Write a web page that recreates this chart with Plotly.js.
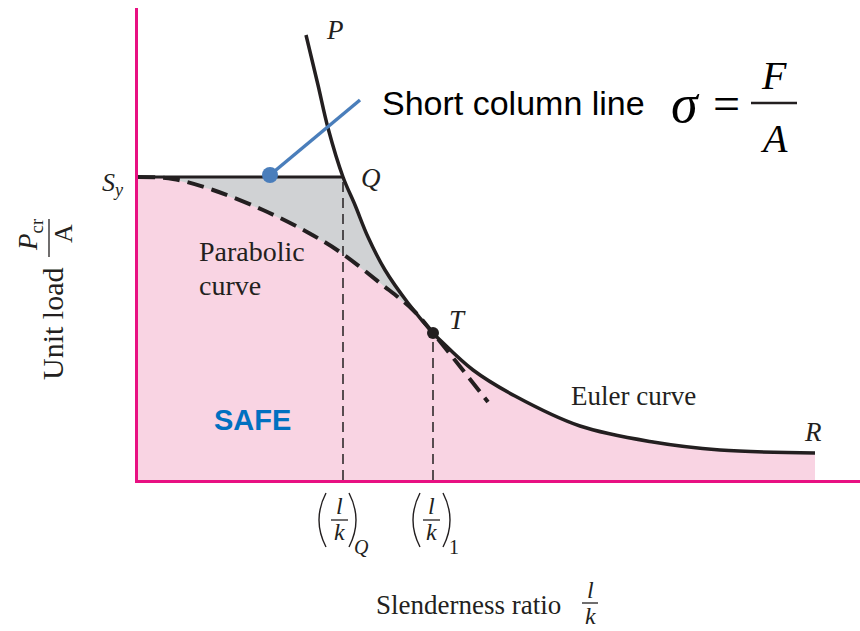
<!DOCTYPE html>
<html>
<head>
<meta charset="utf-8">
<script src="https://cdn.plot.ly/plotly-3.0.1.min.js"></script>
<style>html,body{margin:0;padding:0;background:#fff;}#chart{width:860px;height:631px;}</style>
</head>
<body>
<div id="chart"></div>
<script>
// ---- data (arbitrary units) ----
const eulerX = [168, 180, 190, 205, 217, 230, 247, 270, 295, 302, 335, 377, 442, 515, 582, 677];
const eulerY = [445, 395, 352, 303, 275, 243, 210, 177, 147, 140, 110, 84, 54, 38, 30, 27];
const parabolaX = [0, 35, 75, 125, 169, 202, 242, 275, 295, 350];
const parabolaY = [303, 301, 290, 270, 248, 228, 197, 170, 147, 78];
const yieldStrength = 303;          // S_y
const pointQ = [205, 303];          // (l/k)_Q
const pointT = [295, 147];          // (l/k)_1
const pointerX = [132, 222];        // short-column-line pointer
const pointerY = [305, 380];

// ---- layout constants ----
const L = 138, TOP = 8, PW = 722, PH = 472;
const INK = '#231f20';
const SERIF = 'Liberation Serif, Times New Roman, serif';
const SANS = 'Liberation Sans, Arial, sans-serif';

function px2paper(px, py) { return [(px - L) / PW, (TOP + PH - py) / PH]; }
function ann(px, py, text, size, extra) {
  const p = px2paper(px, py);
  return Object.assign({
    xref: 'paper', yref: 'paper', x: p[0], y: p[1], text: text, showarrow: false,
    xanchor: 'center', yanchor: 'middle',
    font: { family: SERIF, size: size, color: INK }
  }, extra || {});
}
function bar(x0, y0, x1, y1, w) {
  const a = px2paper(x0, y0), b = px2paper(x1, y1);
  return { type: 'line', xref: 'paper', yref: 'paper', x0: a[0], y0: a[1], x1: b[0], y1: b[1],
           line: { color: INK, width: w || 1.3 } };
}
// thin parenthesis drawn as a quadratic curve: ends at xEnd, bulge reaches xExt
function paren(xEnd, xExt, yTop, yBot) {
  const a = px2paper(xEnd, yTop), c = px2paper(2 * xExt - xEnd, (yTop + yBot) / 2), b = px2paper(xEnd, yBot);
  return { type: 'path', xref: 'paper', yref: 'paper',
           path: 'M ' + a[0] + ',' + a[1] + ' Q ' + c[0] + ',' + c[1] + ' ' + b[0] + ',' + b[1],
           line: { color: INK, width: 1.4 } };
}

// ---- derived paths ----
const Tx = pointT[0], Qx = pointQ[0];
const pinkX = [], pinkY = [];
parabolaX.forEach((x, i) => { if (x <= Tx) { pinkX.push(x); pinkY.push(parabolaY[i]); } });
eulerX.forEach((x, i) => { if (x > Tx) { pinkX.push(x); pinkY.push(eulerY[i]); } });

const greyX = [0, Qx], greyY = [yieldStrength, yieldStrength];
eulerX.forEach((x, i) => { if (x > Qx && x <= Tx) { greyX.push(x); greyY.push(eulerY[i]); } });
for (let i = parabolaX.length - 1; i >= 0; i--) {
  if (parabolaX[i] < Tx) { greyX.push(parabolaX[i]); greyY.push(parabolaY[i]); }
}

const traces = [
  { x: pinkX, y: pinkY, mode: 'lines', fill: 'tozeroy', fillcolor: 'rgb(249,212,227)',
    line: { width: 0, shape: 'spline' }, hoverinfo: 'skip' },
  { x: greyX, y: greyY, mode: 'lines', fill: 'toself', fillcolor: 'rgb(208,210,212)',
    line: { width: 0 }, hoverinfo: 'skip' },
  { x: [0, Qx], y: [yieldStrength, yieldStrength], mode: 'lines',
    line: { color: INK, width: 3 } },
  { x: [Qx, Qx], y: [0, pointQ[1]], mode: 'lines',
    line: { color: INK, width: 1.5, dash: '10px,6px' } },
  { x: [Tx, Tx], y: [0, pointT[1]], mode: 'lines',
    line: { color: INK, width: 1.5, dash: '10px,6px' } },
  { x: parabolaX, y: parabolaY, mode: 'lines',
    line: { color: INK, width: 4, dash: '17px,8px', shape: 'spline' } },
  { x: eulerX, y: eulerY, mode: 'lines',
    line: { color: INK, width: 3.5, shape: 'spline' } },
  { x: [Tx], y: [pointT[1]], mode: 'markers', marker: { color: INK, size: 12 } },
  { x: pointerX, y: pointerY, mode: 'lines',
    line: { color: 'rgb(74,126,187)', width: 3.5 } },
  { x: [pointerX[0]], y: [pointerY[0]], mode: 'markers',
    marker: { color: 'rgb(74,126,187)', size: 16, line: { width: 0 } } }
];

const annotations = [
  ann(335, 30, '<i>P</i>', 27),
  ann(371, 178, '<i>Q</i>', 27),
  ann(457, 320, '<i>T</i>', 27),
  ann(813, 432, '<i>R</i>', 27),
  ann(113, 184, '<i>S</i><sub><i>y</i></sub>', 26),
  ann(252, 251, 'Parabolic', 28),
  ann(230, 285, 'curve', 28),
  ann(633, 396, 'Euler curve', 27),
  ann(252, 420, '<b>SAFE</b>', 29, { font: { family: SANS, size: 29, color: 'rgb(0,112,192)' } }),
  ann(513, 103, 'Short column line', 34, { font: { family: SANS, size: 34, color: '#000' } }),
  ann(685, 104, '<i>σ</i>', 54, { font: { family: SERIF, size: 54, color: '#000' } }),
  ann(726, 103, '=', 48, { font: { family: SERIF, size: 48, color: '#000' } }),
  ann(774, 76, '<i>F</i>', 40, { font: { family: SERIF, size: 40, color: '#000' } }),
  ann(774, 138, '<i>A</i>', 40, { font: { family: SERIF, size: 40, color: '#000' } }),
  // y-axis title
  ann(52, 324, 'Unit load', 30, { textangle: -90 }),
  ann(30, 235, '<i>P</i><sub>cr</sub>', 27, { textangle: -90 }),
  ann(64, 234, 'A', 26, { textangle: -90 }),
  // x tick labels
  ann(339, 506, '<i>l</i>', 24),
  ann(339, 532, '<i>k</i>', 24),
  ann(361, 547, '<i>Q</i>', 20),
  ann(431, 506, '<i>l</i>', 24),
  ann(431, 532, '<i>k</i>', 24),
  ann(454, 547, '1', 20),
  // x-axis title
  ann(468, 605, 'Slenderness ratio', 27),
  ann(590, 590, '<i>l</i>', 24),
  ann(590, 616, '<i>k</i>', 24)
];

const shapes = [
  bar(751, 103, 797, 103, 2.5),
  bar(49, 219, 49, 257, 1.3),
  bar(331, 520, 348, 520, 1.3),
  bar(423, 520, 440, 520, 1.3),
  bar(582, 603, 598, 603, 1.3),
  paren(326, 319, 493, 547),
  paren(349, 356, 493, 547),
  paren(420, 413, 493, 547),
  paren(443, 450, 493, 547)
];

const layout = {
  width: 860, height: 631,
  margin: { l: L, r: 0, t: TOP, b: 631 - TOP - PH, pad: 0 },
  paper_bgcolor: '#fff', plot_bgcolor: '#fff',
  showlegend: false,
  xaxis: { range: [0, PW], showgrid: false, zeroline: false, showticklabels: false, ticks: '',
           showline: true, linecolor: 'rgb(232,16,130)', linewidth: 3, fixedrange: true },
  yaxis: { range: [0, PH], showgrid: false, zeroline: false, showticklabels: false, ticks: '',
           showline: true, linecolor: 'rgb(232,16,130)', linewidth: 3, fixedrange: true },
  annotations: annotations,
  shapes: shapes
};

Plotly.newPlot('chart', traces, layout, { displayModeBar: false, staticPlot: true });
</script>
</body>
</html>
